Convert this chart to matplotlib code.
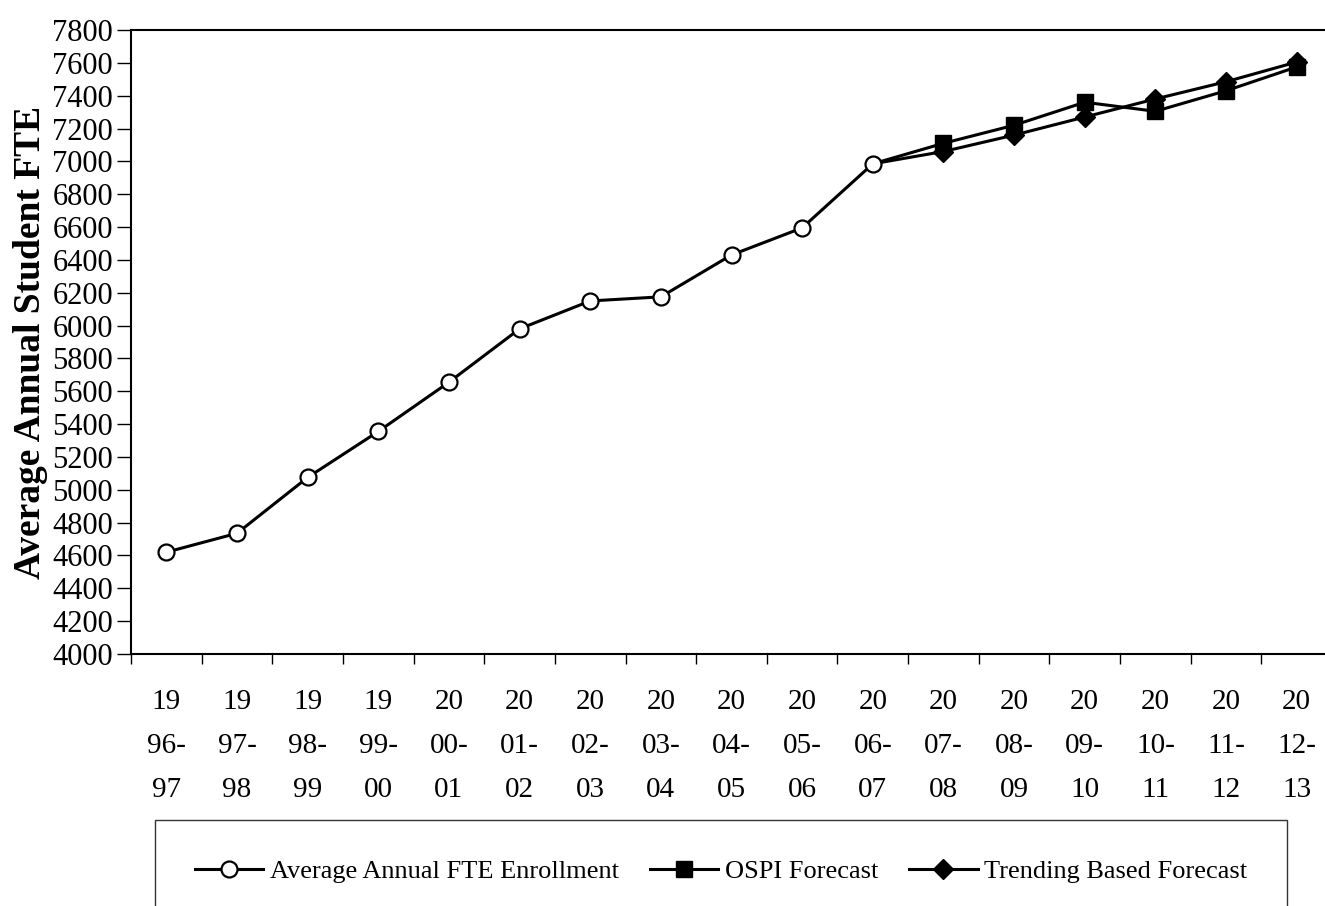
import matplotlib
matplotlib.use("Agg")
import matplotlib.pyplot as plt
import numpy as np

# school years, shown as three stacked pieces under the axis
years = ["1996-97", "1997-98", "1998-99", "1999-00", "2000-01", "2001-02",
         "2002-03", "2003-04", "2004-05", "2005-06", "2006-07", "2007-08",
         "2008-09", "2009-10", "2010-11", "2011-12", "2012-13"]
year_labels = ["19\n96-\n97", "19\n97-\n98", "19\n98-\n99", "19\n99-\n00",
               "20\n00-\n01", "20\n01-\n02", "20\n02-\n03", "20\n03-\n04",
               "20\n04-\n05", "20\n05-\n06", "20\n06-\n07", "20\n07-\n08",
               "20\n08-\n09", "20\n09-\n10", "20\n10-\n11", "20\n11-\n12",
               "20\n12-\n13"]

# actual enrollment 1996-97 .. 2006-07
enrollment = [4620, 4735, 5075, 5355, 5655, 5980, 6150, 6175, 6430, 6595, 6985]
# forecasts 2006-07 (shared start point) .. 2012-13
ospi_forecast = [6985, 7110, 7220, 7360, 7305, 7430, 7575]
trend_forecast = [6985, 7060, 7160, 7270, 7380, 7485, 7605]

SERIF = "Liberation Serif"
plt.rcParams["font.family"] = SERIF

fig = plt.figure(figsize=(13.25, 9.06), dpi=100)
ax = fig.add_axes([131 / 1325, 1 - 654 / 906, (1332 - 131) / 1325, (654 - 30) / 906])

x_all = np.arange(len(years))
x_actual = x_all[:len(enrollment)]
x_fc = x_all[len(enrollment) - 1:]
fc_marks = list(range(1, len(x_fc)))

ax.plot(x_actual, enrollment, color="black", linewidth=2.2, marker="o",
        markersize=11.5, markerfacecolor="white", markeredgecolor="black",
        markeredgewidth=1.6, label="Average Annual FTE Enrollment", zorder=3)
ax.plot(x_fc, ospi_forecast, color="black", linewidth=2.2, marker="s",
        markersize=11, markevery=fc_marks, label="OSPI Forecast", zorder=2)
ax.plot(x_fc, trend_forecast, color="black", linewidth=2.2, marker="D",
        markersize=10, markevery=fc_marks, label="Trending Based Forecast", zorder=2)

ax.set_ylim(4000, 7800)
ax.set_yticks(np.arange(4000, 7801, 200))
ax.set_xlim(-0.5, len(years) - 0.5)
ax.set_xticks(x_all)
ax.set_xticklabels(year_labels, fontsize=21, linespacing=1.9)
ax.set_xticks(np.arange(-0.5, len(years), 1.0), minor=True)
ax.tick_params(axis="x", which="major", length=0, pad=25)
ax.tick_params(axis="x", which="minor", length=7, width=1, direction="out")
ax.tick_params(axis="y", length=10, width=1, direction="out", pad=3, labelsize=22)

for side in ["left", "bottom", "top", "right"]:
    ax.spines[side].set_linewidth(1.5)

ax.set_ylabel("Average Annual Student FTE", fontsize=27, fontweight="bold",
              labelpad=3)

leg = fig.legend(loc="upper left",
                 bbox_to_anchor=(155 / 1325, 1 - 820 / 906, 1132 / 1325, 0.0),
                 mode="expand", ncol=3, fontsize=19, frameon=True, fancybox=False,
                 edgecolor="black", borderpad=1.5, handlelength=2.6,
                 handletextpad=0.25, borderaxespad=0)
leg.get_frame().set_linewidth(1.0)

fig.savefig("out.png", dpi=100)
